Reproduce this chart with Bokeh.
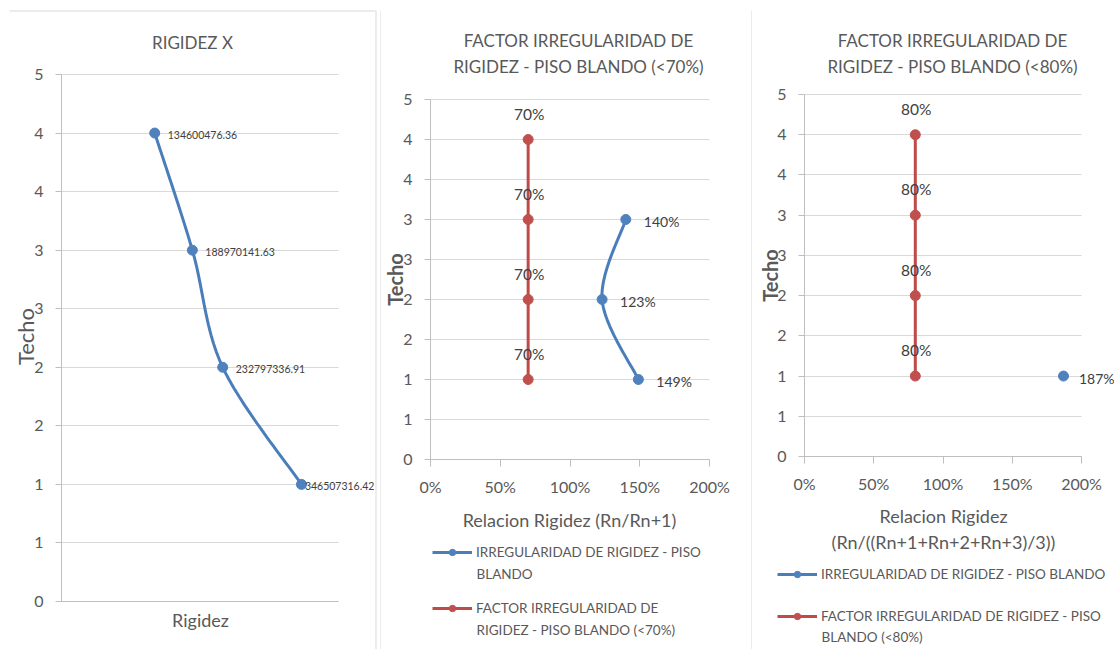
import math
from bokeh.plotting import figure
from bokeh.models import (Range1d, FixedTicker, Label, LabelSet, Legend, LegendItem,
                          ColumnDataSource, BoxAnnotation)
from bokeh.layouts import row
from bokeh.embed import file_html
from bokeh.resources import INLINE
from bokeh.core.properties import value

# ---------------- data ----------------
FLOORS = [4, 3, 2, 1]
RIGIDEZ_X = [134600476.36, 188970141.63, 232797336.91, 346507316.42]
RIGIDEZ_AXIS_MAX = 400000000

IRREG_FLOORS_70 = [3, 2, 1]
IRREG_RATIO_70 = [1.40, 1.23, 1.49]
LIMIT_FLOORS_70 = [4, 3, 2, 1]
LIMIT_70 = [0.70, 0.70, 0.70, 0.70]

IRREG_FLOORS_80 = [1]
IRREG_RATIO_80 = [1.87]
LIMIT_FLOORS_80 = [4, 3, 2, 1]
LIMIT_80 = [0.80, 0.80, 0.80, 0.80]

Y_TICKS = [0, 0.5, 1, 1.5, 2, 2.5, 3, 3.5, 4, 4.5]
Y_TICK_LABELS = ["0", "1", "1", "2", "2", "3", "3", "4", "4", "5"]
X_PCT_TICKS = [0, 0.5, 1.0, 1.5, 2.0]
X_PCT_LABELS = ["0%", "50%", "100%", "150%", "200%"]

TITLE_1 = ["RIGIDEZ X"]
TITLE_2 = ["FACTOR IRREGULARIDAD DE", "RIGIDEZ - PISO BLANDO (<70%)"]
TITLE_3 = ["FACTOR IRREGULARIDAD DE", "RIGIDEZ - PISO BLANDO (<80%)"]
Y_TITLE = "Techo"
X_TITLE_1 = ["Rigidez"]
X_TITLE_2 = ["Relacion Rigidez (Rn/Rn+1)"]
X_TITLE_3 = ["Relacion Rigidez", "(Rn/((Rn+1+Rn+2+Rn+3)/3))"]
LEG_2 = [["IRREGULARIDAD DE RIGIDEZ - PISO", "BLANDO"],
         ["FACTOR IRREGULARIDAD DE", "RIGIDEZ - PISO BLANDO (<70%)"]]
LEG_3 = [["IRREGULARIDAD DE RIGIDEZ - PISO BLANDO"],
         ["FACTOR IRREGULARIDAD DE RIGIDEZ - PISO", "BLANDO (<80%)"]]

# ---------------- style ----------------
FONT = "Lato"
TXT = "#595959"
DLAB = "#404040"
GRID = "#D9D9D9"
AXIS = "#BFBFBF"
BORDER = "#D9D9D9"
BLUE = "#4F81BD"
BLUE_LINE = "#4A7EBB"
RED = "#C0504D"
RED_LINE = "#BE4B48"


class Geo:
    """Canvas of a panel (page px) and its plot area (page px <-> axis values)."""
    def __init__(self, ox, oy, tw, th, pl, pr, pb, pt, xv, yv):
        self.ox, self.oy, self.tw, self.th = ox, oy, tw, th
        self.pl, self.pr, self.pb, self.pt = pl, pr, pb, pt
        self.xv, self.yv = xv, yv

    def x(self, px):
        return self.xv[0] + (px - self.pl) / (self.pr - self.pl) * (self.xv[1] - self.xv[0])

    def y(self, py):
        return self.yv[0] + (self.pb - py) / (self.pb - self.pt) * (self.yv[1] - self.yv[0])

    def px(self, x):
        return self.pl + (x - self.xv[0]) / (self.xv[1] - self.xv[0]) * (self.pr - self.pl)


def smooth(xs, ys, n=30):
    pts = list(zip(xs, ys))
    if len(pts) < 2:
        return list(xs), list(ys)
    ox, oy = [], []
    for i in range(len(pts) - 1):
        p0 = pts[i - 1] if i > 0 else pts[i]
        p1, p2 = pts[i], pts[i + 1]
        p3 = pts[i + 2] if i + 2 < len(pts) else pts[i + 1]
        c1 = (p1[0] + (p2[0] - p0[0]) / 6.0, p1[1] + (p2[1] - p0[1]) / 6.0)
        c2 = (p2[0] - (p3[0] - p1[0]) / 6.0, p2[1] - (p3[1] - p1[1]) / 6.0)
        last = (i == len(pts) - 2)
        for k in range(n + (1 if last else 0)):
            t = k / n
            a, b, c, d = (1 - t) ** 3, 3 * (1 - t) ** 2 * t, 3 * (1 - t) * t ** 2, t ** 3
            ox.append(a * p1[0] + b * c1[0] + c * c2[0] + d * p2[0])
            oy.append(a * p1[1] + b * c1[1] + c * c2[1] + d * p2[1])
    return ox, oy


def text_w(s, size):
    w = 0.0
    for ch in s:
        if ch.isdigit():
            w += 0.58
        elif ch in ".,":
            w += 0.25
        elif ch == "%":
            w += 0.80
        else:
            w += 0.60
    return w * size


def add_text(p, g, px, py, text, size, align="center", angle=0.0, color=TXT, style="normal"):
    p.add_layout(Label(x=g.x(px), y=g.y(py), text=text, text_font=FONT,
                       text_font_size=f"{size}px", text_font_style=style,
                       text_color=color, text_align=align, text_baseline="middle",
                       angle=angle))


def add_lines(p, g, lines, px, py, step, size, align="center"):
    for i, t in enumerate(lines):
        add_text(p, g, px, py + i * step, t, size, align=align)


def border(p, g, x0, x1, y0, y1):
    p.add_layout(BoxAnnotation(left=g.x(x0), right=g.x(x1),
                               top=g.y(y0), bottom=g.y(y1) if y1 is not None else None,
                               fill_color=BORDER, fill_alpha=1.0, line_alpha=0))


def make_fig(g, xmax):
    p = figure(width=g.tw, height=g.th,
               x_range=Range1d(g.x(g.ox), g.x(g.ox + g.tw)),
               y_range=Range1d(g.y(g.oy + g.th), g.y(g.oy)),
               output_backend="svg", toolbar_location=None, title_location=None,
               min_border=0, min_border_left=0, min_border_right=0,
               min_border_top=0, min_border_bottom=0,
               background_fill_color="white", border_fill_color="white",
               outline_line_color=None)
    p.xgrid.visible = False
    p.ygrid.grid_line_color = GRID
    p.ygrid.grid_line_width = 1
    # keep the horizontal grid inside the plot area
    p.add_layout(BoxAnnotation(right=0, fill_color="white", fill_alpha=1.0,
                               line_alpha=0, level="underlay"))
    p.add_layout(BoxAnnotation(left=xmax, fill_color="white", fill_alpha=1.0,
                               line_alpha=0, level="underlay"))

    ya = p.yaxis[0]
    ya.fixed_location = 0
    ya.bounds = (0, Y_TICKS[-1])
    ya.ticker = FixedTicker(ticks=Y_TICKS)
    ya.major_label_overrides = {t: l for t, l in zip(Y_TICKS, Y_TICK_LABELS)}
    ya.axis_line_color = AXIS
    ya.major_tick_line_color = AXIS
    ya.major_tick_out = 6
    ya.major_tick_in = 0
    ya.minor_tick_line_color = None
    ya.major_label_text_font = FONT
    ya.major_label_text_font_size = "16px"
    ya.major_label_text_color = TXT
    ya.major_label_standoff = 12

    xa = p.xaxis[0]
    xa.fixed_location = 0
    xa.bounds = (0, xmax)
    xa.axis_line_color = AXIS
    xa.minor_tick_line_color = None
    xa.major_label_text_font = FONT
    xa.major_label_text_font_size = "16px"
    xa.major_label_text_color = TXT
    return p


# ================= Panel 1 : RIGIDEZ X =================
g1 = Geo(0, 0, 381, 649, 61, 338, 601, 74, (0, RIGIDEZ_AXIS_MAX), (0, Y_TICKS[-1]))
p1 = make_fig(g1, RIGIDEZ_AXIS_MAX)
p1.xaxis[0].ticker = FixedTicker(ticks=[])
p1.xaxis[0].major_tick_line_color = None

sx, sy = smooth(RIGIDEZ_X, FLOORS)
p1.line(sx, sy, line_color=BLUE_LINE, line_width=3)
p1.scatter(RIGIDEZ_X, FLOORS, marker="circle", size=10, fill_color=BLUE, line_color=BLUE)

fs1 = 10.5
lab1 = [f"{v:.2f}" for v in RIGIDEZ_X]
xo1 = [min(13.0, 374 - g1.px(v) - text_w(t, fs1)) for v, t in zip(RIGIDEZ_X, lab1)]
src1 = ColumnDataSource(dict(x=RIGIDEZ_X, y=FLOORS, t=lab1, xo=xo1))
p1.add_layout(LabelSet(x="x", y="y", text="t", source=src1, x_offset="xo", y_offset=-2,
                       text_font=value(FONT), text_font_size=f"{fs1}px", text_color=DLAB,
                       text_align="left", text_baseline="middle"))

add_lines(p1, g1, TITLE_1, 192, 42, 26, 17)
add_lines(p1, g1, X_TITLE_1, 200, 619, 26, 18)
add_text(p1, g1, 25, 336, Y_TITLE, 22, angle=math.pi / 2)
border(p1, g1, 9, 375, 10, 11)
border(p1, g1, 375, 376, 10, None)
border(p1, g1, 380, 381, 10, None)


# ================= percentage panels =================
def pct_panel(g, bx, by, rx, ry, leg_texts, leg_x, leg_y, leg_step):
    p = make_fig(g, X_PCT_TICKS[-1])
    xa = p.xaxis[0]
    xa.ticker = FixedTicker(ticks=X_PCT_TICKS)
    xa.major_label_overrides = {t: l for t, l in zip(X_PCT_TICKS, X_PCT_LABELS)}
    xa.major_tick_line_color = AXIS
    xa.major_tick_out = 7
    xa.major_tick_in = 0
    xa.major_label_standoff = 10

    bsx, bsy = smooth(bx, by)
    bl = p.line(bsx, bsy, line_color=BLUE_LINE, line_width=3)
    bs = p.scatter(bx, by, marker="circle", size=10, fill_color=BLUE, line_color=BLUE)
    rsx, rsy = smooth(rx, ry)
    rl = p.line(rsx, rsy, line_color=RED_LINE, line_width=3)
    rs = p.scatter(rx, ry, marker="circle", size=10, fill_color=RED, line_color=RED)

    fsb = 14
    btxt = [f"{v:.0%}" for v in bx]
    bxo = [min(18.0, (g.ox + g.tw - 2) - g.px(v) - text_w(t, fsb)) for v, t in zip(bx, btxt)]
    bsrc = ColumnDataSource(dict(x=bx, y=by, t=btxt, xo=bxo))
    p.add_layout(LabelSet(x="x", y="y", text="t", source=bsrc, x_offset="xo", y_offset=-2,
                          text_font=value(FONT), text_font_size=f"{fsb}px", text_color=DLAB,
                          text_align="left", text_baseline="middle"))
    rsrc = ColumnDataSource(dict(x=rx, y=ry, t=[f"{v:.0%}" for v in rx]))
    p.add_layout(LabelSet(x="x", y="y", text="t", source=rsrc, x_offset=1, y_offset=26,
                          text_font=value(FONT), text_font_size="15.5px", text_color=DLAB,
                          text_align="center", text_baseline="middle"))

    # legend: one Legend per entry; continuation lines as text below the entry
    h = 16
    for renderers, lines, cy in (([bl, bs], leg_texts[0], leg_y[0]),
                                 ([rl, rs], leg_texts[1], leg_y[1])):
        leg = Legend(items=[LegendItem(label=lines[0], renderers=renderers)],
                     location=(leg_x - g.ox, (g.oy + g.th) - cy - h / 2),
                     glyph_width=40, glyph_height=h, label_height=h, label_width=10,
                     label_standoff=4, spacing=0, padding=0, margin=0,
                     border_line_color=None, background_fill_alpha=0,
                     label_text_font=FONT, label_text_font_size="13.5px",
                     label_text_color=TXT, label_text_baseline="middle")
        p.add_layout(leg)
        for j, extra in enumerate(lines[1:], start=1):
            add_text(p, g, leg_x + 44, cy + j * leg_step, extra, 13.5, align="left")
    return p


# Panel 2 : <70%
g2 = Geo(381, 0, 371, 649, 430, 709, 459, 99, (0, X_PCT_TICKS[-1]), (0, Y_TICKS[-1]))
p2 = pct_panel(g2, IRREG_RATIO_70, IRREG_FLOORS_70, LIMIT_70, LIMIT_FLOORS_70,
               LEG_2, 432, (552, 608), 21.5)
add_lines(p2, g2, TITLE_2, 578, 40, 26, 17)
add_lines(p2, g2, X_TITLE_2, 569, 519, 26, 18)
add_text(p2, g2, 394, 279, Y_TITLE, 20, angle=math.pi / 2, style="bold")
border(p2, g2, 751, 752, 10, None)

# Panel 3 : <80%
g3 = Geo(752, 0, 364, 649, 804, 1081, 456, 94, (0, X_PCT_TICKS[-1]), (0, Y_TICKS[-1]))
p3 = pct_panel(g3, IRREG_RATIO_80, IRREG_FLOORS_80, LIMIT_80, LIMIT_FLOORS_80,
               LEG_3, 777, (574, 615.5), 21)
add_lines(p3, g3, TITLE_3, 952, 40, 26, 17)
add_lines(p3, g3, X_TITLE_3, 943, 515, 26, 18)
add_text(p3, g3, 769, 275, Y_TITLE, 20, angle=math.pi / 2, style="bold")

layout = row(p1, p2, p3)
open("out.html", "w").write(file_html(layout, INLINE))
